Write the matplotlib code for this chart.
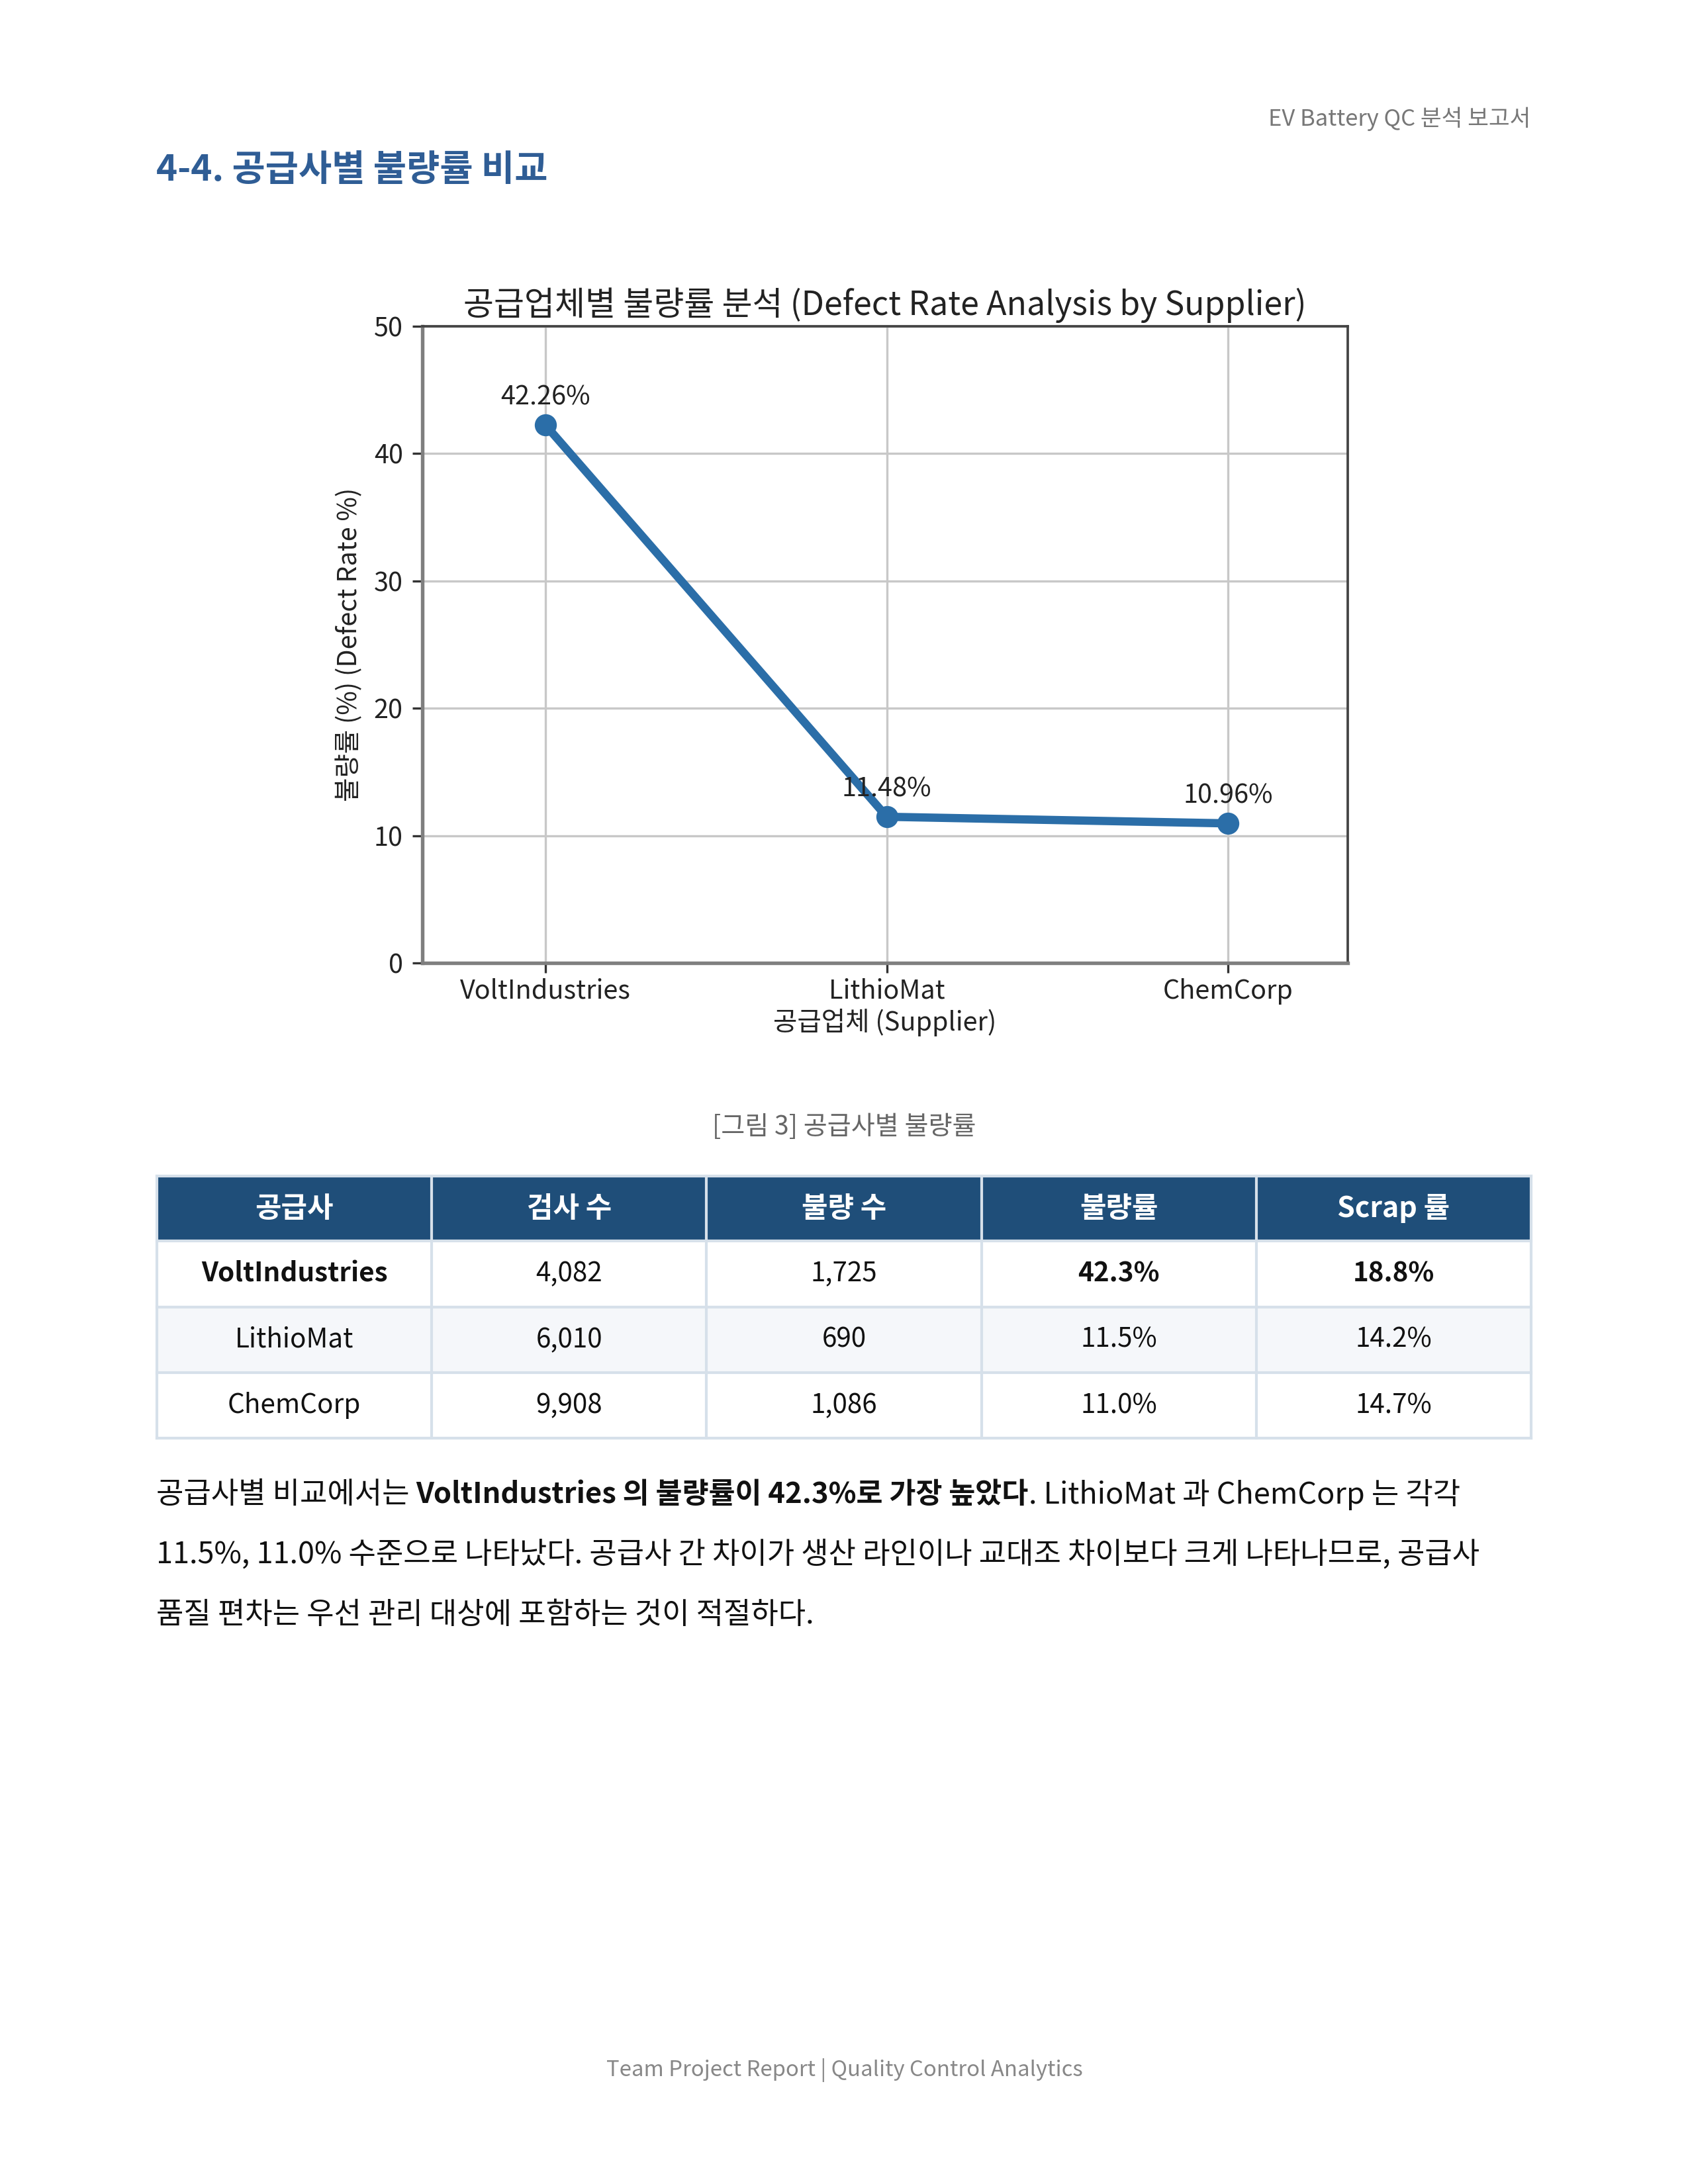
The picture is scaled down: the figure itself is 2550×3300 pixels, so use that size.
import matplotlib
matplotlib.use("Agg")
import matplotlib.pyplot as plt
from matplotlib.patches import Rectangle

plt.rcParams['font.family'] = ['Noto Sans CJK KR', 'DejaVu Sans']

# ---------------- data ----------------
suppliers = ['VoltIndustries', 'LithioMat', 'ChemCorp']
defect_rates = [42.26, 11.48, 10.96]
y_ticks = [0, 10, 20, 30, 40, 50]

table_headers = ['공급사', '검사 수', '불량 수', '불량률', 'Scrap 률']
inspections = ['4,082', '6,010', '9,908']
defects = ['1,725', '690', '1,086']
rate_labels = ['42.3%', '11.5%', '11.0%']
scrap_rates = ['18.8%', '14.2%', '14.7%']

page_header = 'EV Battery QC 분석 보고서'
section_title = '4-4. 공급사별 불량률 비교'
chart_title = '공급업체별 불량률 분석 (Defect Rate Analysis by Supplier)'
x_label = '공급업체 (Supplier)'
y_label = '불량률 (%) (Defect Rate %)'
caption = '[그림 3] 공급사별 불량률'
footer = 'Team Project Report | Quality Control Analytics'

para_lines = [
    [('공급사별 비교에서는', False), (' ', False),
     ('VoltIndustries 의 불량률이 42.3%로 가장 높았다', True),
     ('. LithioMat 과 ChemCorp 는 각각', False)],
    [('11.5%, 11.0% 수준으로 나타났다. 공급사 간 차이가 생산 라인이나 교대조 차이보다 크게 나타나므로, 공급사', False)],
    [('품질 편차는 우선 관리 대상에 포함하는 것이 적절하다.', False)],
]

# ---------------- page ----------------
W, H = 2550, 3300
fig = plt.figure(figsize=(W / 300, H / 300), dpi=300)
fig.patch.set_facecolor('white')

bg = fig.add_axes([0, 0, 1, 1])
bg.set_xlim(0, W)
bg.set_ylim(H, 0)
bg.axis('off')

bg.text(2312, 180, page_header, ha='right', va='center', fontsize=8.3, color='#777777')
bg.text(236, 258, section_title, ha='left', va='center', fontsize=13.1,
        fontweight='bold', color='#2f5d95')

# ---------------- chart ----------------
L, R, T, B = 638, 2036, 493, 1455
ax = fig.add_axes([L / W, 1 - B / H, (R - L) / W, (B - T) / H])
line_color = '#2b6ea8'
xs = list(range(len(suppliers)))
ax.plot(xs, defect_rates, marker='o', lw=3, ms=7, color=line_color, zorder=3)
for i, v in enumerate(defect_rates):
    ax.annotate(f'{v:.2f}%', (i, v), xytext=(0, 10), textcoords='offset points',
                ha='center', va='center', fontsize=9.5, color='#222222', zorder=4)
ax.set_xticks(xs)
ax.set_xticklabels(suppliers, fontsize=9.5, color='#222222')
ax.set_yticks(y_ticks)
ax.set_yticklabels([str(t) for t in y_ticks], fontsize=9.5, color='#222222')
ax.set_ylim(0, 50)
ax.set_xlim(-0.36, 2.35)
ax.grid(True, color='#c8c8c8', lw=0.8)
ax.set_axisbelow(True)
ax.set_title(chart_title, fontsize=12, color='#222222', pad=4)
ax.set_xlabel(x_label, fontsize=9.5, color='#222222', labelpad=1.5)
ax.set_ylabel(y_label, fontsize=9.5, color='#222222', labelpad=4)
for s in ['left', 'bottom']:
    ax.spines[s].set_color('#7f7f7f')
    ax.spines[s].set_linewidth(1.3)
for s in ['top', 'right']:
    ax.spines[s].set_color('#444444')
    ax.spines[s].set_linewidth(0.9)
ax.tick_params(colors='#333333', labelcolor='#222222')
ax.tick_params(axis='x', pad=2)

bg.text(1275, 1703, caption, ha='center', va='center', fontsize=9.4, color='#666666')

# ---------------- table ----------------
tl, tr = 237, 2313
ncol = len(table_headers)
cw = (tr - tl) / ncol
row_edges = [1777, 1875, 1975, 2074, 2173]
header_fill = '#1f4e79'
border = '#d6e0ea'

bg.add_patch(Rectangle((tl, row_edges[0]), tr - tl, row_edges[1] - row_edges[0],
                       facecolor=header_fill, edgecolor='none', zorder=1))
rows = [[suppliers[i], inspections[i], defects[i], rate_labels[i], scrap_rates[i]]
        for i in range(len(suppliers))]
for r in range(len(rows)):
    y0, y1 = row_edges[r + 1], row_edges[r + 2]
    fill = '#f5f7fa' if r % 2 == 1 else 'white'
    bg.add_patch(Rectangle((tl, y0), tr - tl, y1 - y0, facecolor=fill,
                           edgecolor='none', zorder=1))
for y in row_edges:
    bg.plot([tl, tr], [y, y], color=border, lw=1.0, zorder=2)
for c in range(ncol + 1):
    x = tl + c * cw
    bg.plot([x, x], [row_edges[0], row_edges[-1]], color=border, lw=1.0, zorder=2)

for c, h in enumerate(table_headers):
    bg.text(tl + (c + 0.5) * cw, (row_edges[0] + row_edges[1]) / 2, h,
            ha='center', va='center', fontsize=10.3, fontweight='bold',
            color='white', zorder=3)
bold_cells = {(0, 0), (0, 3), (0, 4)}
for r, row in enumerate(rows):
    yc = (row_edges[r + 1] + row_edges[r + 2]) / 2
    for c, val in enumerate(row):
        bg.text(tl + (c + 0.5) * cw, yc, val, ha='center', va='center', fontsize=9.7,
                fontweight='bold' if (r, c) in bold_cells else 'normal',
                color='#111111', zorder=3)

# ---------------- paragraph ----------------
fig.canvas.draw()
renderer = fig.canvas.get_renderer()
para_fs = 10.8
para_fs_bold = 10.45


def text_width(s, bold):
    t = bg.text(0, 0, s, fontsize=para_fs_bold if bold else para_fs,
                fontweight='bold' if bold else 'normal')
    w = t.get_window_extent(renderer).width
    t.remove()
    return w


space_w = text_width('가 가', False) - text_width('가가', False)
line_y = [2258, 2349, 2440]
for ly, segs in zip(line_y, para_lines):
    x = 236
    for s, bold in segs:
        if s == ' ':
            x += space_w
            continue
        bg.text(x, ly, s, ha='left', va='center',
                fontsize=para_fs_bold if bold else para_fs,
                fontweight='bold' if bold else 'normal', color='#111111')
        x += text_width(s, bold)

bg.text(1276, 3128, footer, ha='center', va='center', fontsize=7.9, color='#888888')

fig.savefig('out.png', dpi=300, facecolor='white')
